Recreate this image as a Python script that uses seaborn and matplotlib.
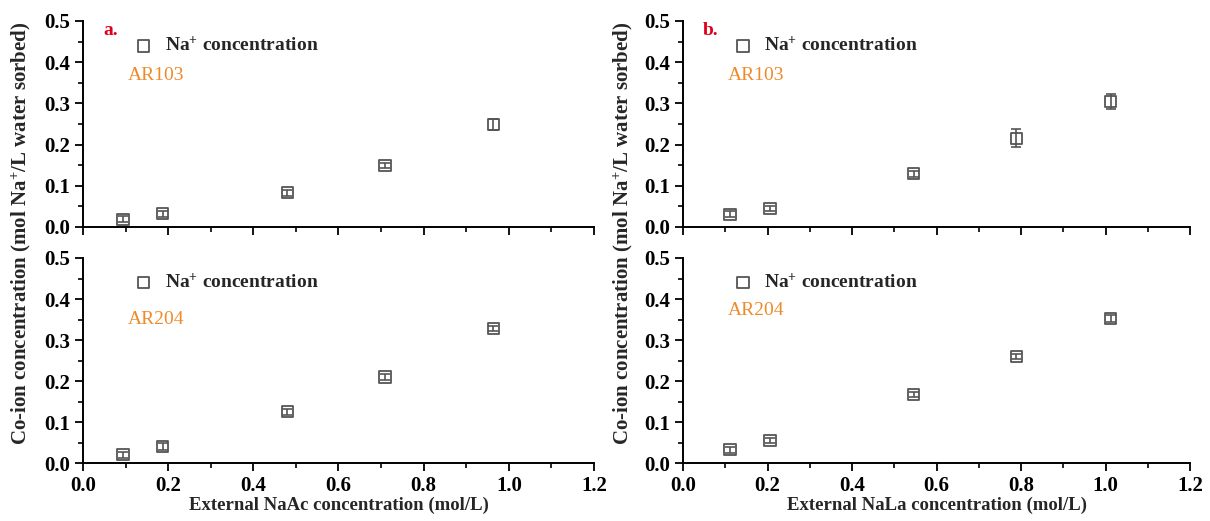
import numpy as np
import pandas as pd
import seaborn as sns
import matplotlib
matplotlib.use("Agg")
import matplotlib.pyplot as plt
from matplotlib.ticker import MultipleLocator

# ---- data ----
x_naac = [0.094, 0.187, 0.480, 0.709, 0.964]
y_ar103_naac = [0.019, 0.032, 0.083, 0.150, 0.249]
e_ar103_naac = [0.008, 0.007, 0.007, 0.006, 0.013]
y_ar204_naac = [0.020, 0.040, 0.125, 0.210, 0.328]
e_ar204_naac = [0.008, 0.008, 0.007, 0.007, 0.007]

x_nala = [0.111, 0.206, 0.546, 0.789, 1.012]
y_ar103_nala = [0.031, 0.045, 0.129, 0.215, 0.304]
e_ar103_nala = [0.007, 0.006, 0.007, 0.022, 0.018]
y_ar204_nala = [0.032, 0.055, 0.167, 0.259, 0.353]
e_ar204_nala = [0.007, 0.005, 0.005, 0.006, 0.008]

resins = ["AR103", "AR204"]
panel_tags = ["a.", "b."]
xlabels = ["External NaAc concentration (mol/L)", "External NaLa concentration (mol/L)"]
ylabel = "Co-ion concentration (mol Na$^{+}$/L water sorbed)"
legend_label = "Na$^{+}$ concentration"

sns.set_theme(style="ticks")
plt.rcParams["font.family"] = ["Liberation Serif", "DejaVu Serif"]
plt.rcParams["mathtext.fontset"] = "custom"
plt.rcParams["mathtext.rm"] = "Liberation Serif"
plt.rcParams["mathtext.bf"] = "Liberation Serif:bold"
plt.rcParams["mathtext.default"] = "bf"

fig = plt.figure(figsize=(12.1, 5.21), dpi=100)
pos = {
    (0, 0): [0.0686, 0.5643, 0.4223, 0.3954],
    (1, 0): [0.0686, 0.1113, 0.4223, 0.3935],
    (0, 1): [0.5645, 0.5643, 0.4190, 0.3954],
    (1, 1): [0.5645, 0.1113, 0.4190, 0.3935],
}
series = {
    (0, 0): (x_naac, y_ar103_naac, e_ar103_naac),
    (1, 0): (x_naac, y_ar204_naac, e_ar204_naac),
    (0, 1): (x_nala, y_ar103_nala, e_ar103_nala),
    (1, 1): (x_nala, y_ar204_nala, e_ar204_nala),
}
label_y = {(0, 0): 0.368, (1, 0): 0.350, (0, 1): 0.368, (1, 1): 0.373}

mc = "#555555"
for (r, c), rect in pos.items():
    ax = fig.add_axes(rect)
    xs, ys, es = series[(r, c)]
    df = pd.DataFrame({"x": xs, "y": ys})
    ax.errorbar(xs, ys, yerr=es, fmt="none", ecolor=mc, elinewidth=1.2,
                capsize=3.5, capthick=1.2, zorder=2)
    sns.scatterplot(data=df, x="x", y="y", ax=ax, marker="s", s=65,
                    facecolor="none", edgecolor=mc, linewidth=1.3,
                    label=legend_label, zorder=3)
    ax.set_xlim(0, 1.2)
    ax.set_ylim(0, 0.5)
    ax.xaxis.set_major_locator(MultipleLocator(0.2))
    ax.xaxis.set_minor_locator(MultipleLocator(0.1))
    ax.yaxis.set_major_locator(MultipleLocator(0.1))
    ax.yaxis.set_minor_locator(MultipleLocator(0.05))
    ax.xaxis.set_major_formatter(matplotlib.ticker.FormatStrFormatter("%.1f"))
    ax.yaxis.set_major_formatter(matplotlib.ticker.FormatStrFormatter("%.1f"))
    ax.tick_params(which="major", direction="out", length=6, width=1.3,
                   labelsize=15, color="black", labelcolor="black", pad=3)
    ax.tick_params(which="minor", direction="out", length=3.5, width=1.2, color="black")
    for lab in ax.get_xticklabels() + ax.get_yticklabels():
        lab.set_fontweight("bold")
    sns.despine(ax=ax)
    for sp in ["left", "bottom"]:
        ax.spines[sp].set_linewidth(1.4)
        ax.spines[sp].set_color("black")
    ax.set_facecolor("white")
    ax.set_xlabel("")
    ax.set_ylabel("")
    if r == 0:
        ax.tick_params(axis="x", labelbottom=False)
    else:
        ax.set_xlabel(xlabels[c], fontsize=13.5, fontweight="bold", labelpad=1)
    leg = ax.legend(loc="center left", bbox_to_anchor=(0.08, 0.88), frameon=False,
                    prop={"family": "Liberation Serif", "weight": "bold", "size": 14},
                    handletextpad=0.5, borderaxespad=0, handlelength=1.2)
    ax.text(0.105, label_y[(r, c)], resins[r], color="#ef8a2a", fontsize=14,
            va="center", ha="left")
    if r == 0:
        ax.text(0.047, 0.478, panel_tags[c], color="#e0001b", fontsize=14,
                fontweight="bold", va="center", ha="left")

fig.text(0.018, 0.553, ylabel, rotation=90, ha="center", va="center",
         fontsize=15, fontweight="bold")
fig.text(0.515, 0.553, ylabel, rotation=90, ha="center", va="center",
         fontsize=15, fontweight="bold")

fig.savefig("out.png", dpi=100, facecolor="white")
